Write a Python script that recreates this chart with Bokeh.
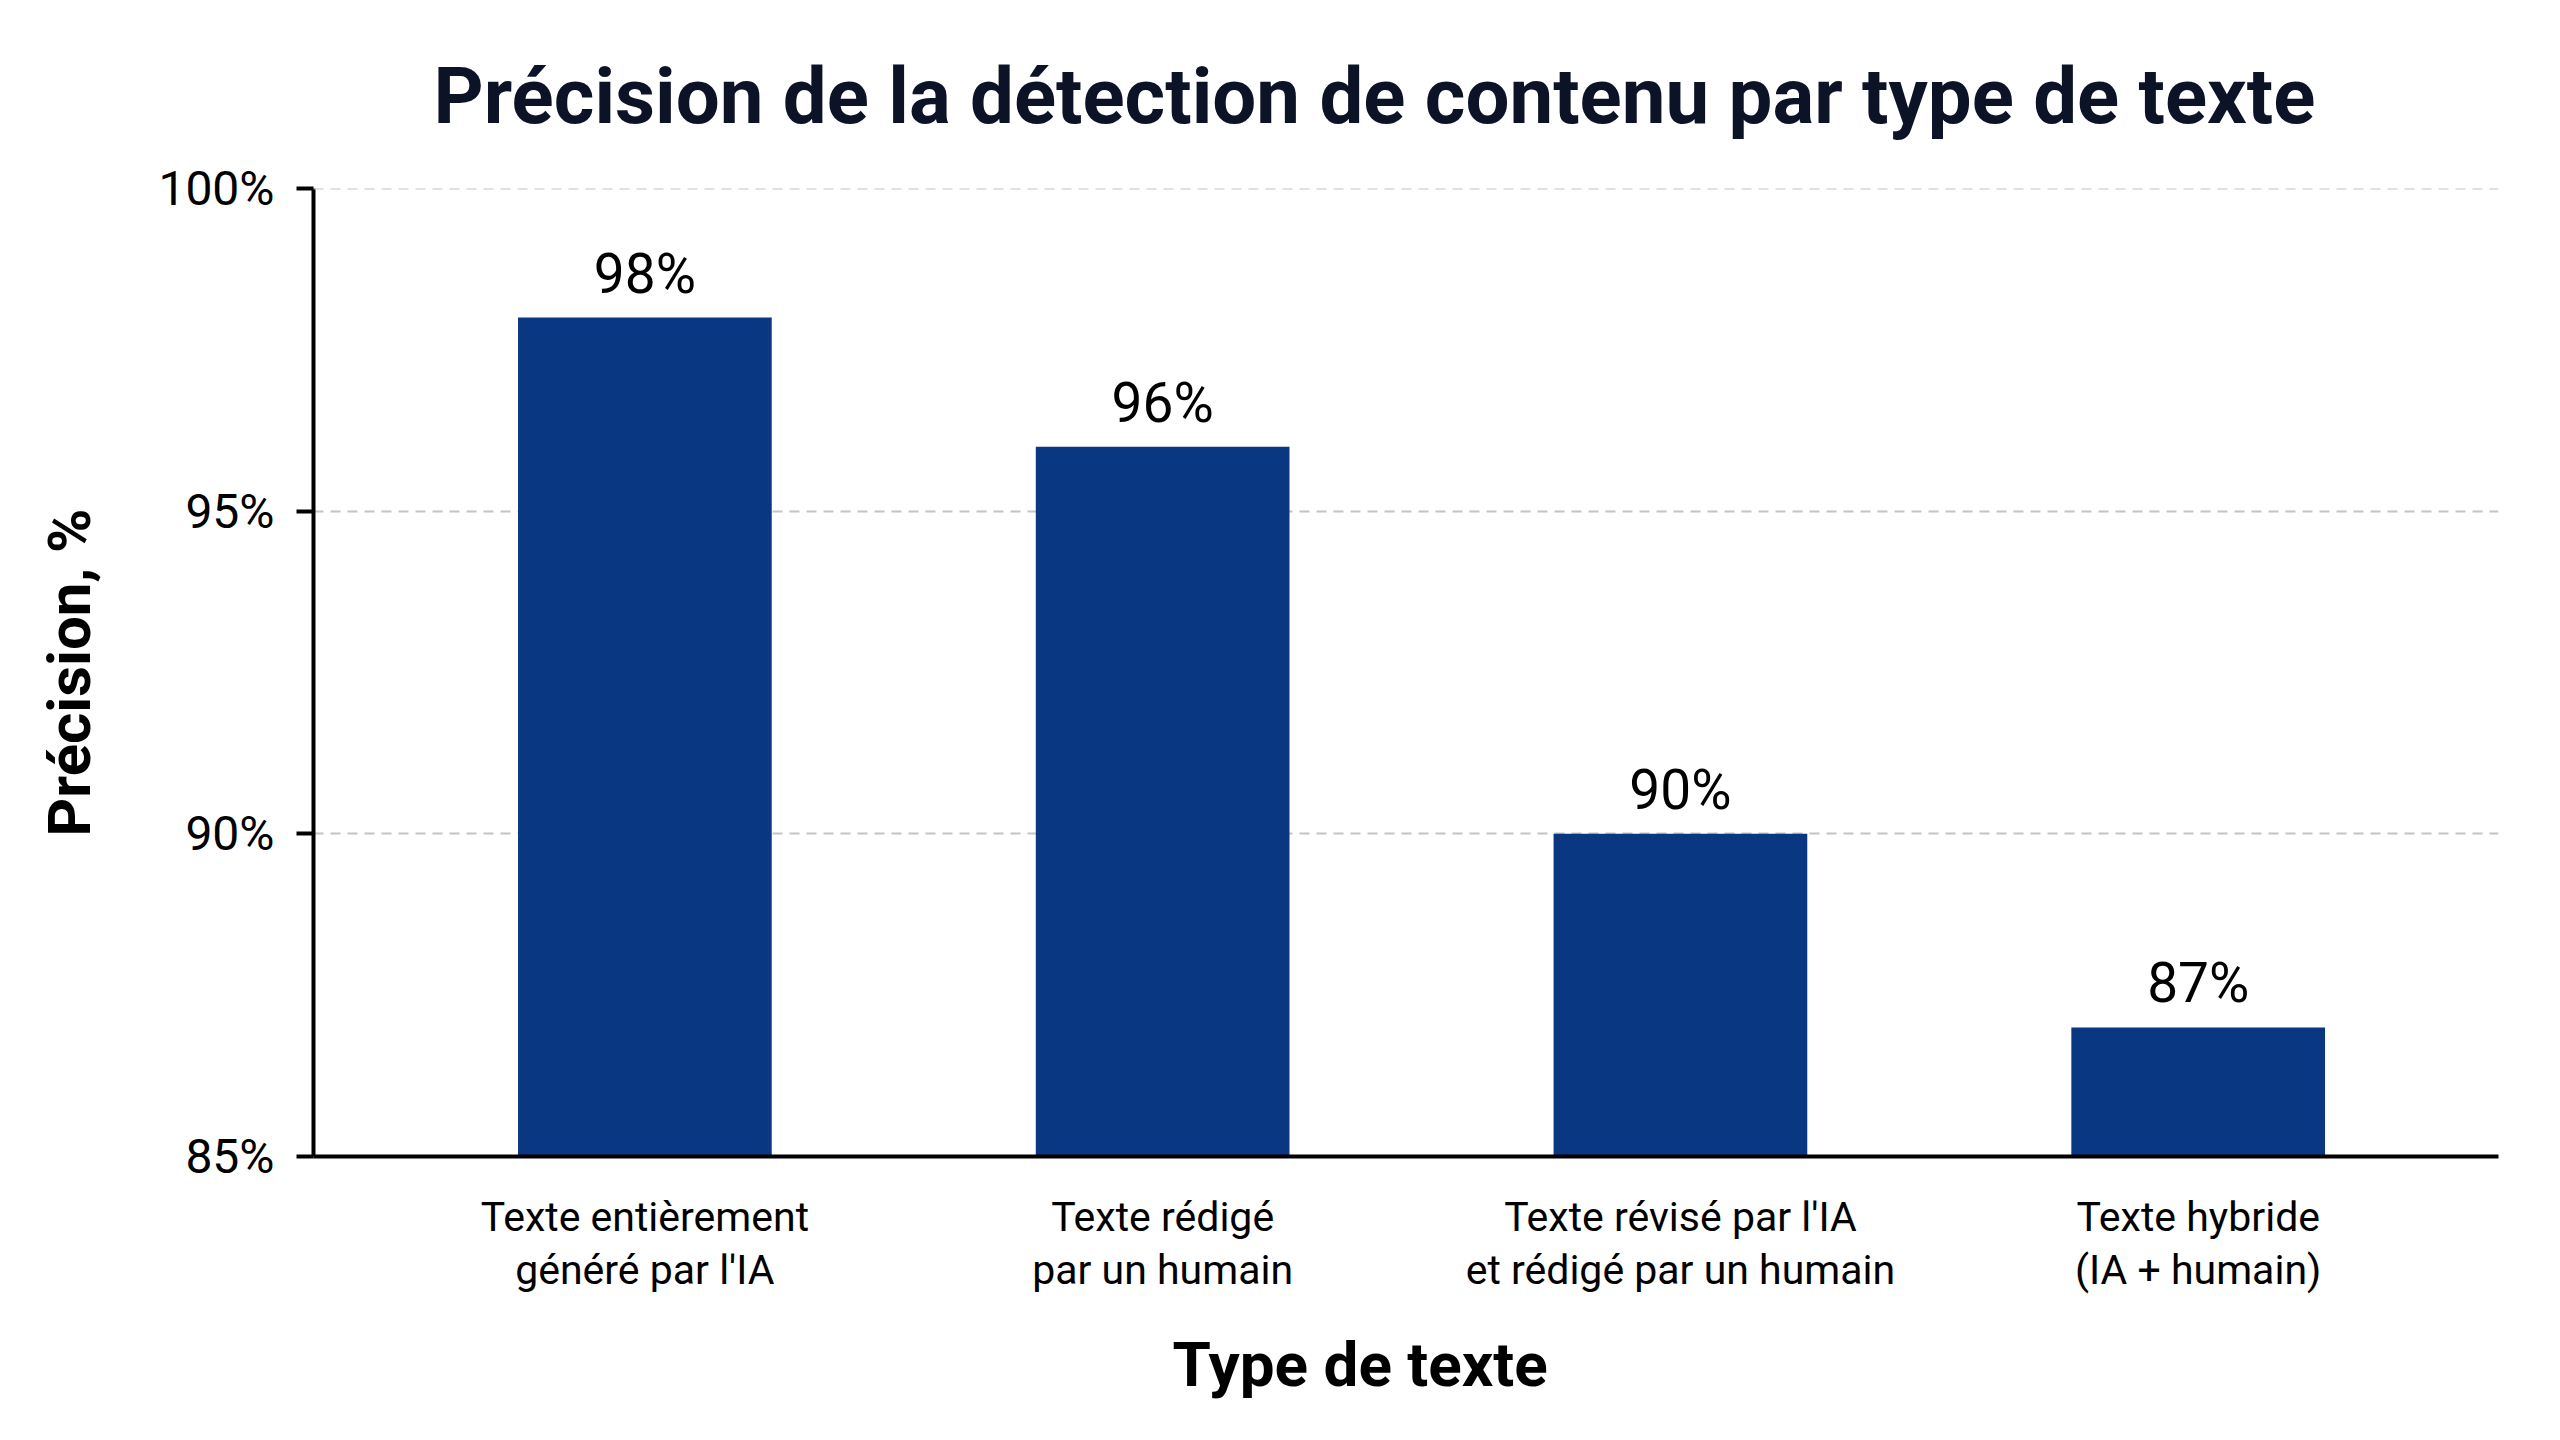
from bokeh.plotting import figure
from bokeh.models import Range1d, FixedTicker, ColumnDataSource, LabelSet, Span, Title
from bokeh.core.properties import value
from bokeh.embed import file_html
from bokeh.resources import INLINE

categories = [
    "Texte entièrement\ngénéré par l'IA",
    "Texte rédigé\npar un humain",
    "Texte révisé par l'IA\net rédigé par un humain",
    "Texte hybride\n(IA + humain)",
]
values = [98, 96, 90, 87]
value_labels = ["98%", "96%", "90%", "87%"]
y_ticks = [85, 90, 95, 100]
y_tick_labels = ["85%", "90%", "95%", "100%"]
title_text = "Précision de la détection de contenu par type de texte"
x_title = "Type de texte"
y_title = "Précision, %"

FONT = "Roboto"
BAR = "#0a3782"
GRID = "#c4c4c4"

xs = list(range(len(categories)))
src = ColumnDataSource(dict(x=xs, top=values, lab=value_labels))

p = figure(
    width=2560, height=1440,
    output_backend="svg", toolbar_location=None,
    x_range=Range1d(-0.64, 3.58), y_range=Range1d(85, 100),
    min_border_left=313, min_border_right=62,
    min_border_top=188, min_border_bottom=284,
)
p.outline_line_color = None
p.background_fill_color = "white"
p.border_fill_color = "white"

p.vbar(x="x", top="top", bottom=85, width=0.49, source=src,
       fill_color=BAR, line_color=None)

labels = LabelSet(x="x", y="top", text="lab", source=src,
                  text_align="center", text_baseline="bottom", y_offset=12,
                  text_font=value(FONT), text_font_size="55px", text_color="#000000")
p.add_layout(labels)

# top gridline (grid skips the range end)
p.add_layout(Span(location=y_ticks[-1], dimension="width", line_color=GRID,
                  line_dash="10 7", line_width=2))

# Title
p.title.text = title_text
p.title.text_font = FONT
p.title.text_font_size = "78px"
p.title.text_font_style = "bold"
p.title.text_color = "#0d1326"
p.title.align = "left"
p.title.offset = 120
p.title.standoff = 93

# X axis title as a Title below the axis (allows horizontal offset)
p.add_layout(Title(text=x_title, text_font=FONT, text_font_size="62px",
                   text_font_style="bold", text_color="#000000",
                   align="left", offset=859, standoff=57), "below")

# Y axis
p.yaxis.ticker = FixedTicker(ticks=y_ticks)
p.yaxis.major_label_overrides = {t: l for t, l in zip(y_ticks, y_tick_labels)}
p.yaxis.major_label_text_font = FONT
p.yaxis.major_label_text_font_size = "48px"
p.yaxis.major_label_text_color = "#000000"
p.yaxis.major_label_standoff = 22
p.yaxis.axis_line_width = 4
p.yaxis.axis_line_color = "#000000"
p.yaxis.major_tick_line_width = 4
p.yaxis.major_tick_line_color = "#000000"
p.yaxis.major_tick_out = 17
p.yaxis.major_tick_in = 0
p.yaxis.minor_tick_line_color = None
p.yaxis.axis_label = y_title
p.yaxis.axis_label_text_font = FONT
p.yaxis.axis_label_text_font_size = "60px"
p.yaxis.axis_label_text_font_style = "bold"
p.yaxis.axis_label_text_color = "#000000"
p.yaxis.axis_label_standoff = 50

# X axis
p.xaxis.ticker = FixedTicker(ticks=xs)
p.xaxis.major_label_overrides = {i: c for i, c in zip(xs, categories)}
p.xaxis.major_label_text_font = FONT
p.xaxis.major_label_text_font_size = "41px"
p.xaxis.major_label_text_line_height = 1.12
p.xaxis.major_label_text_color = "#000000"
p.xaxis.major_label_standoff = 30
p.xaxis.major_tick_line_color = None
p.xaxis.minor_tick_line_color = None
p.xaxis.axis_line_width = 4
p.xaxis.axis_line_color = "#000000"

# Grid
p.xgrid.grid_line_color = None
p.ygrid.grid_line_color = GRID
p.ygrid.grid_line_dash = "10 7"
p.ygrid.grid_line_width = 2

open("out.html", "w").write(file_html(p, INLINE))
